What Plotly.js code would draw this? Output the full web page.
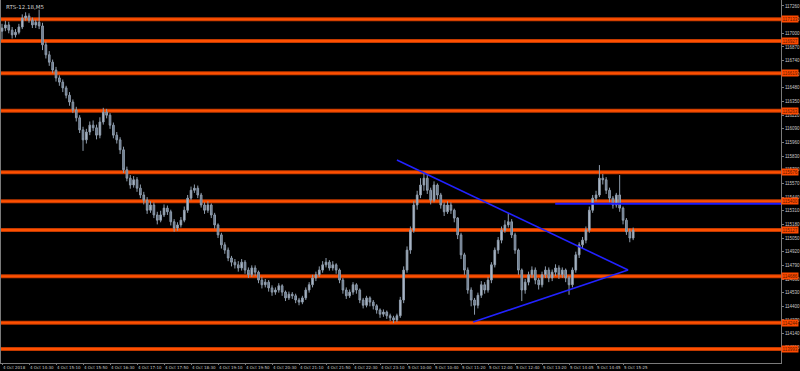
<!DOCTYPE html>
<html><head><meta charset="utf-8">
<script src="https://cdn.plot.ly/plotly-3.0.1.min.js"></script>
<style>html,body{margin:0;padding:0;background:#000;}#chart{width:800px;height:371px;}</style>
</head><body><div id="chart"></div>
<script>
const chartTitle = "RTS-12.18,M5";
const opens = [
117020,117050,117080,117030,116985,117010,117060,117145,117165,117125,
117080,117105,117070,116890,116795,116725,116650,116575,116535,116480,
116410,116345,116270,116195,116080,115985,116060,116125,116100,116030,
116155,116250,116220,116125,116030,115985,115890,115700,115620,115555,
115605,115525,115460,115410,115315,115365,115270,115220,115270,115335,
115300,115205,115145,115175,115220,115315,115430,115505,115525,115460,
115365,115315,115365,115270,115175,115080,114985,114935,114860,114820,
114795,114765,114820,114745,114700,114765,114725,114650,114605,114630,
114575,114535,114555,114595,114535,114480,114515,114500,114460,114440,
114480,114555,114605,114670,114700,114745,114795,114820,114765,114795,
114745,114650,114555,114500,114535,114605,114555,114460,114410,114480,
114440,114405,114365,114325,114345,114310,114290,114270,114310,114460,
114745,114935,115125,115365,115460,115555,115620,115505,115410,115555,
115460,115365,115300,115365,115315,115240,115080,114890,114745,114555,
114460,114410,114505,114605,114555,114650,114795,114935,115030,115125,
115175,115205,115080,114935,114745,114555,114630,114700,114745,114650,
114605,114700,114745,114670,114725,114765,114700,114745,114670,114605,
114745,114890,114985,115030,115125,115315,115430,115460,115620,115605,
115505,115430,115365,115460,115335,115220,115110,115050];
const highs = [
117090,117120,117110,117060,117040,117090,117180,117200,117190,117150,
117130,117225,117100,116920,116830,116750,116680,116600,116560,116500,
116440,116370,116300,116220,116110,116090,116160,116170,116130,116200,
116290,116280,116240,116150,116060,116010,115920,115730,115650,115640,
115630,115560,115490,115440,115400,115390,115300,115310,115370,115360,
115320,115230,115200,115250,115350,115460,115540,115560,115550,115480,
115390,115400,115380,115290,115190,115100,115010,114960,114880,114850,
114830,114850,114840,114770,114790,114790,114740,114680,114660,114650,
114600,114580,114620,114610,114550,114540,114535,114520,114480,114500,
114580,114630,114700,114730,114780,114830,114860,114840,114830,114810,
114760,114670,114580,114560,114630,114620,114570,114480,114500,114495,
114460,114420,114380,114370,114360,114330,114310,114330,114490,114780,
114970,115160,115400,115500,115620,115680,115650,115530,115590,115570,
115480,115390,115400,115390,115330,115250,115100,114910,114770,114580,
114480,114530,114640,114630,114680,114820,114960,115060,115160,115220,
115290,115230,115100,114950,114760,114660,114730,114780,114770,114670,
114730,114780,114770,114750,114800,114790,114770,114760,114690,114770,
114920,115010,115060,115160,115350,115460,115500,115745,115660,115630,
115530,115450,115480,115650,115350,115240,115140,115150];
const lows = [
116940,117020,117000,116950,116960,116990,117040,117120,117100,117050,
117050,117040,116840,116760,116690,116620,116540,116500,116440,116380,
116310,116240,116160,116050,115880,115950,116030,116070,115990,116000,
116130,116190,116090,116000,115950,115850,115670,115590,115520,115530,
115490,115430,115370,115280,115290,115240,115180,115200,115250,115270,
115170,115110,115120,115150,115200,115290,115410,115480,115430,115340,
115280,115290,115240,115140,115050,114950,114900,114830,114780,114760,
114730,114740,114710,114670,114680,114690,114620,114570,114580,114540,
114500,114510,114530,114500,114450,114460,114470,114430,114410,114420,
114460,114530,114580,114640,114680,114720,114770,114740,114740,114710,
114620,114520,114470,114480,114510,114520,114430,114380,114390,114400,
114370,114330,114290,114300,114280,114260,114240,114250,114290,114430,
114720,114900,115100,115320,115430,115500,115470,115370,115390,115420,
115330,115260,115280,115280,115200,115040,114850,114700,114520,114400,
114320,114380,114480,114520,114530,114620,114770,114900,115000,115100,
115150,115050,114900,114700,114450,114520,114600,114670,114610,114560,
114580,114670,114630,114640,114690,114660,114670,114630,114510,114580,
114720,114860,114950,115000,115100,115290,115400,115440,115560,115470,
115390,115330,115340,115300,115180,115080,115010,115030];
const closes = [
117050,117080,117030,116985,117010,117060,117145,117165,117125,117080,
117105,117070,116890,116795,116725,116650,116575,116535,116480,116410,
116345,116270,116195,116080,115985,116060,116125,116100,116030,116155,
116250,116220,116125,116030,115985,115890,115700,115620,115555,115605,
115525,115460,115410,115315,115365,115270,115220,115270,115335,115300,
115205,115145,115175,115220,115315,115430,115505,115525,115460,115365,
115315,115365,115270,115175,115080,114985,114935,114860,114820,114795,
114765,114820,114745,114700,114765,114725,114650,114605,114630,114575,
114535,114555,114595,114535,114480,114515,114500,114460,114440,114480,
114555,114605,114670,114700,114745,114795,114820,114765,114795,114745,
114650,114555,114500,114535,114605,114555,114460,114410,114480,114440,
114405,114365,114325,114345,114310,114290,114270,114310,114460,114745,
114935,115125,115365,115460,115555,115620,115505,115410,115555,115460,
115365,115300,115365,115315,115240,115080,114890,114745,114555,114460,
114410,114505,114605,114555,114650,114795,114935,115030,115125,115175,
115205,115080,114935,114745,114555,114630,114700,114745,114650,114605,
114700,114745,114670,114725,114765,114700,114745,114670,114605,114745,
114890,114985,115030,115125,115315,115430,115460,115620,115605,115505,
115430,115365,115460,115335,115220,115110,115050,115125];
const timeTickBars = [0,8,16,24,32,40,48,56,64,72,80,88,96,104,112,120,128,136,144,152,160,168,176,184];
const timeTickLabels = ["4 Oct 2018","4 Oct 14:30","4 Oct 15:10","4 Oct 15:50","4 Oct 16:30","4 Oct 17:10","4 Oct 17:50","4 Oct 18:30","4 Oct 19:10","4 Oct 19:50","4 Oct 20:30","4 Oct 21:10","4 Oct 21:50","4 Oct 22:30","4 Oct 23:10","5 Oct 10:00","5 Oct 10:40","5 Oct 11:20","5 Oct 12:00","5 Oct 12:40","5 Oct 13:20","5 Oct 14:05","5 Oct 14:45","5 Oct 15:25"];
const priceTicks = [114010,114140,114270,114400,114530,114660,114790,114920,115050,115180,115310,115440,115570,115700,115830,115960,116090,116220,116350,116480,116610,116740,116870,117000,117130,117260];
const levels = [117133,116927,116619,116263,115676,115400,115127,114686,114244,113993];
const trendUpperBars = [117, 185.5];
const trendUpperPrices = [115793, 114746];
const trendLowerBars = [139.6, 185.5];
const trendLowerPrices = [114250, 114746];
const blueLevelBars = [163.9, 231];
const blueLevelPrices = [115377, 115377];

const bars = closes.map((_, i) => i);
const xRange = [-0.3, 230.8];
const yRange = [113860, 117317];

const traces = [{
  type: 'candlestick', x: bars, open: opens, high: highs, low: lows, close: closes,
  increasing: {line: {color: '#8e9cac', width: 1}, fillcolor: '#b8c3d0'},
  decreasing: {line: {color: '#8e9cac', width: 1}, fillcolor: '#66768a'},
  whiskerwidth: 0, showlegend: false, hoverinfo: 'skip'
}, {
  type: 'scatter', mode: 'lines', x: trendUpperBars, y: trendUpperPrices,
  line: {color: '#2222ff', width: 1.6}, showlegend: false, hoverinfo: 'skip'
}, {
  type: 'scatter', mode: 'lines', x: trendLowerBars, y: trendLowerPrices,
  line: {color: '#2222ff', width: 1.6}, showlegend: false, hoverinfo: 'skip'
}, {
  type: 'scatter', mode: 'lines', x: blueLevelBars, y: blueLevelPrices,
  line: {color: '#1a1aff', width: 2}, showlegend: false, hoverinfo: 'skip'
}];

const shapes = [];
levels.forEach(v => {
  shapes.push({type: 'line', xref: 'paper', x0: 0, x1: 1, yref: 'y', y0: v, y1: v,
    line: {color: '#c23a00', width: 4}, layer: 'below'});
  shapes.push({type: 'line', xref: 'paper', x0: 0, x1: 1, yref: 'y', y0: v, y1: v,
    line: {color: '#ff5000', width: 2}, layer: 'below'});
});

const annotations = levels.map(v => ({
  xref: 'paper', x: 1, xanchor: 'left', xshift: 0, yref: 'y', y: v, yanchor: 'middle',
  text: String(v), showarrow: false, bgcolor: '#ff4a00', borderpad: 0.5,
  font: {family: 'Liberation Sans', size: 4.5, color: '#5a1a00'}
}));
annotations.push({xref: 'paper', yref: 'paper', x: 0, y: 1, xanchor: 'left', yanchor: 'top',
  xshift: 3, yshift: -2, text: chartTitle, showarrow: false,
  font: {family: 'DejaVu Sans', size: 5.5, color: '#d0d0d0'}});

const layout = {
  width: 800, height: 371,
  margin: {l: 1, r: 19, t: 0, b: 8, pad: 0},
  paper_bgcolor: '#000000', plot_bgcolor: '#000000',
  showlegend: false,
  xaxis: {
    range: xRange, rangeslider: {visible: false}, showgrid: false, zeroline: false,
    showline: true, linecolor: '#7a7a7a', linewidth: 1,
    tickmode: 'array', tickvals: timeTickBars, ticktext: timeTickLabels,
    ticks: 'outside', ticklen: 1, tickcolor: '#7a7a7a', tickangle: 0,
    ticklabelposition: 'outside right',
    tickfont: {family: 'DejaVu Sans', size: 4, color: '#c8c8c8'}, automargin: false
  },
  yaxis: {
    range: yRange, side: 'right', showgrid: false, zeroline: false,
    showline: true, linecolor: '#7a7a7a', linewidth: 1, mirror: true,
    tickmode: 'array', tickvals: priceTicks, ticktext: priceTicks.map(String),
    ticks: 'outside', ticklen: 2, tickcolor: '#7a7a7a',
    tickfont: {family: 'Liberation Sans', size: 4.5, color: '#c8c8c8'}, automargin: false
  },
  shapes: shapes,
  annotations: annotations
};

Plotly.newPlot('chart', traces, layout, {displayModeBar: false, staticPlot: true});
</script></body></html>
